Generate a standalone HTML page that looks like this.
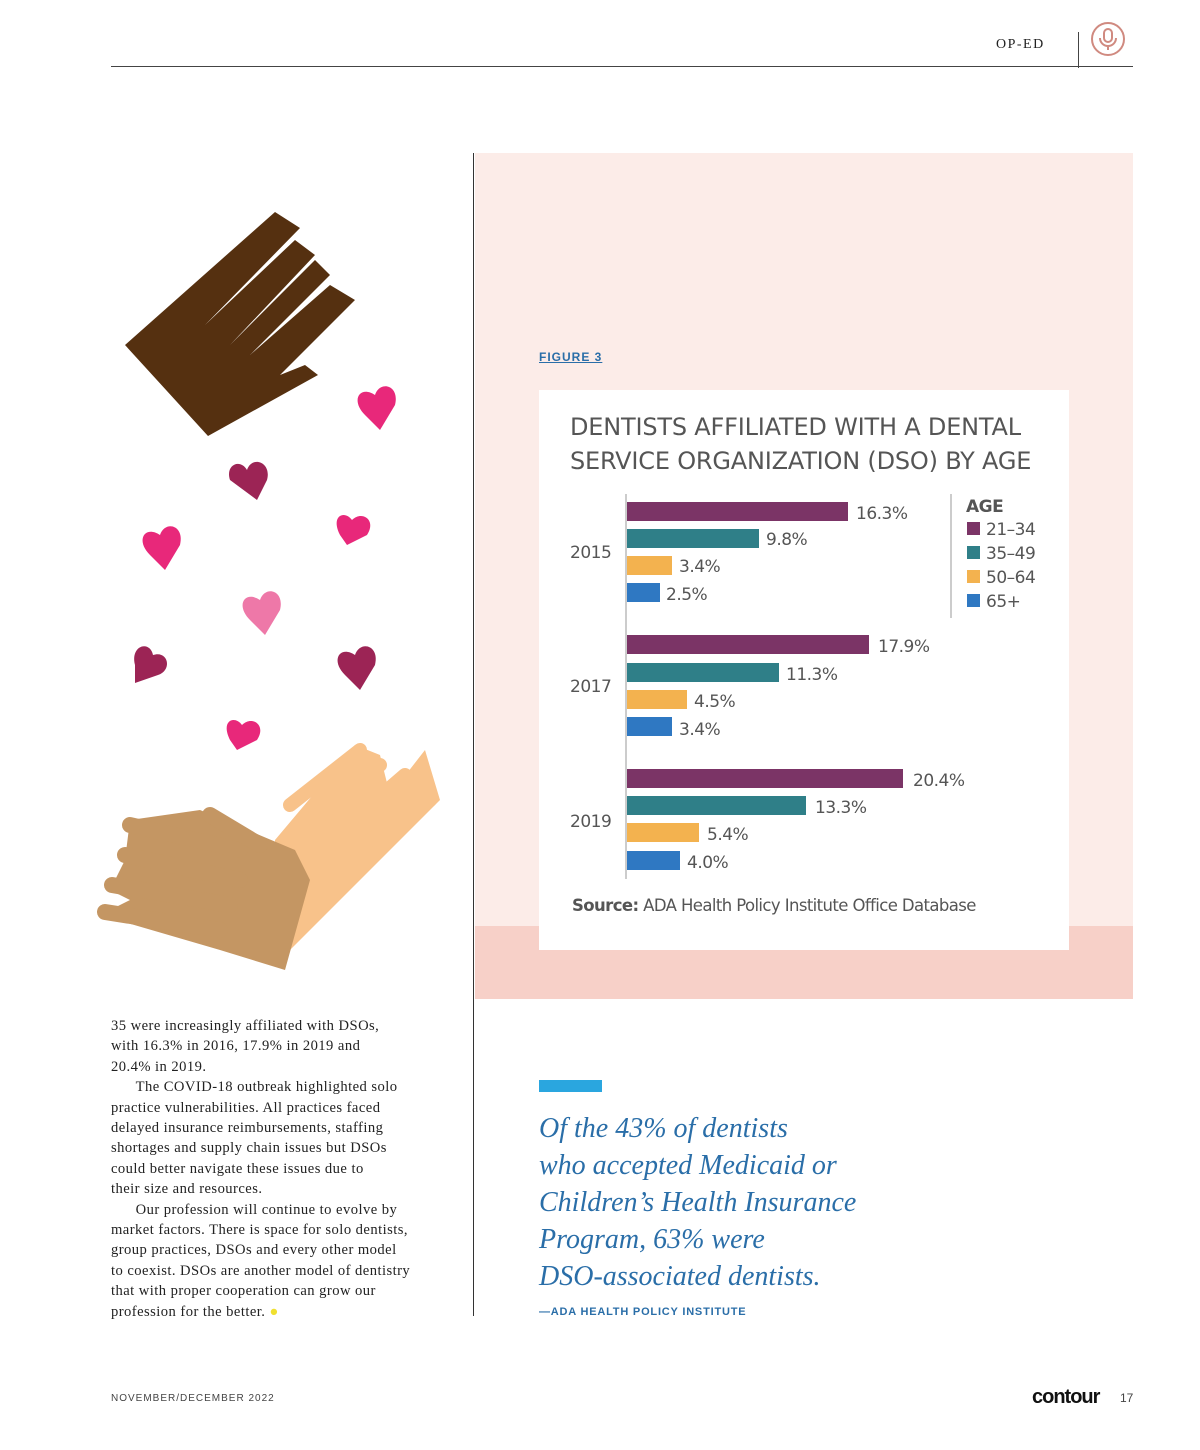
<!DOCTYPE html>
<html><head><meta charset="utf-8"><style>
body{margin:0;width:1200px;height:1450px;background:#fff;position:relative;overflow:hidden;font-family:"Liberation Sans",sans-serif}
.a{position:absolute}
.body{font-family:"Liberation Serif",serif;font-size:14.6px;letter-spacing:0.45px;line-height:20.4px;color:#222;white-space:nowrap}
</style></head><body>
<div class="a" style="left:996px;top:37px;font-family:'Liberation Serif',serif;font-size:14px;letter-spacing:1.5px;color:#222">OP-ED</div>
<div class="a" style="left:1078px;top:32px;width:1px;height:36px;background:#444"></div>
<div class="a" style="left:111px;top:66px;width:1022px;height:1px;background:#444"></div>
<svg class="a" style="left:1089px;top:21px" width="38" height="38"><circle cx="19" cy="18" r="16" fill="none" stroke="#d08a80" stroke-width="2"/><rect x="15" y="8" width="8" height="13" rx="4" fill="none" stroke="#d08a80" stroke-width="2"/><path d="M11 17 a8 8 0 0 0 16 0 M19 25 v4" fill="none" stroke="#d08a80" stroke-width="2"/></svg>

<svg class="a" style="left:90px;top:200px" width="370" height="790">
<polygon points="35,145 185,12 210,28 115,125 205,40 225,55 140,145 225,60 240,75 160,155 240,85 265,100 190,175 215,165 228,175 118,236" fill="#553010"/>
<g fill="#e8287a"><path d="M275,215 c-15,-15 -5,-30 10,-20 c5,-15 25,-10 20,10 l-15,25z"/><path d="M60,355 c-15,-15 -5,-30 10,-20 c5,-15 25,-10 20,10 l-15,25z"/><path d="M250,335 c-10,-20 5,-25 12,-15 c10,-10 25,0 15,15 l-20,10z"/><path d="M140,540 c-10,-20 5,-25 12,-15 c10,-10 25,0 15,15 l-20,10z"/></g>
<g fill="#9c2455"><path d="M140,280 c-5,-15 10,-22 17,-10 c5,-15 25,-8 20,10 l-10,20z"/><path d="M45,465 c-5,-20 15,-25 18,-10 c15,-5 20,15 5,20 l-23,8z"/><path d="M255,475 c-15,-15 -5,-30 10,-20 c5,-15 25,-10 20,10 l-15,25z"/></g>
<path d="M160,420 c-15,-15 -5,-30 10,-20 c5,-15 25,-10 20,10 l-15,25z" fill="#ee78a8"/>
<polygon points="185,640 265,545 290,555 300,595 335,550 350,600 200,750 185,740" fill="#f8c28a"/>
<polygon points="40,620 110,610 205,650 220,680 195,770 130,750 10,715 40,700 20,690 35,660" fill="#c49663"/>
<g stroke="#f8c28a" stroke-width="14" stroke-linecap="round"><line x1="200" y1="605" x2="270" y2="550"/><line x1="225" y1="620" x2="290" y2="565"/><line x1="245" y1="635" x2="315" y2="575"/><line x1="265" y1="650" x2="340" y2="600"/></g>
<g stroke="#c49663" stroke-width="16" stroke-linecap="round"><line x1="40" y1="625" x2="150" y2="650"/><line x1="35" y1="655" x2="150" y2="680"/><line x1="22" y1="685" x2="140" y2="705"/><line x1="15" y1="712" x2="130" y2="730"/><line x1="120" y1="615" x2="170" y2="645"/></g>
</svg>

<div class="a body" style="left:111px;top:1016px">35 were increasingly affiliated with DSOs,<br>with 16.3% in 2016, 17.9% in 2019 and<br>20.4% in 2019.<br>&nbsp;&nbsp;&nbsp;&nbsp;&nbsp;&nbsp;The COVID-18 outbreak highlighted solo<br>practice vulnerabilities. All practices faced<br>delayed insurance reimbursements, staffing<br>shortages and supply chain issues but DSOs<br>could better navigate these issues due to<br>their size and resources.<br>&nbsp;&nbsp;&nbsp;&nbsp;&nbsp;&nbsp;Our profession will continue to evolve by<br>market factors. There is space for solo dentists,<br>group practices, DSOs and every other model<br>to coexist. DSOs are another model of dentistry<br>that with proper cooperation can grow our<br>profession for the better. <span style="color:#f0e030">●</span></div>

<div class="a" style="left:473px;top:153px;width:1px;height:1163px;background:#333"></div>
<div class="a" style="left:475px;top:153px;width:658px;height:846px;background:#fcece8"></div>
<div class="a" style="left:475px;top:926px;width:658px;height:73px;background:#f7d0c8"></div>
<div class="a" style="left:539px;top:350px;font-size:12px;font-weight:bold;letter-spacing:1px;color:#2a6ea8;text-decoration:underline">FIGURE 3</div>
<div class="a" style="left:539px;top:390px;width:530px;height:560px;background:#fff"></div>
<div class="a" style="left:570px;top:410px;font-family:'DejaVu Sans',sans-serif;font-size:24px;line-height:34px;color:#555;letter-spacing:-0.2px;white-space:nowrap">DENTISTS AFFILIATED WITH A DENTAL<br>SERVICE ORGANIZATION (DSO) BY AGE</div>
<div class="a" style="left:625px;top:494px;width:2px;height:385px;background:#ccc"></div>
<div class="a" style="left:950px;top:494px;width:2px;height:124px;background:#ccc"></div>
<svg class="a" style="left:0;top:0" width="1200" height="1450">
<g><rect x="627" y="502" width="221" height="19" fill="#7b3466"/><rect x="627" y="529" width="132" height="19" fill="#2f7f88"/><rect x="627" y="556" width="45" height="19" fill="#f3b24f"/><rect x="627" y="583" width="33" height="19" fill="#2f78c2"/>
<rect x="627" y="635" width="242" height="19" fill="#7b3466"/><rect x="627" y="663" width="152" height="19" fill="#2f7f88"/><rect x="627" y="690" width="60" height="19" fill="#f3b24f"/><rect x="627" y="717" width="45" height="19" fill="#2f78c2"/>
<rect x="627" y="769" width="276" height="19" fill="#7b3466"/><rect x="627" y="796" width="179" height="19" fill="#2f7f88"/><rect x="627" y="823" width="72" height="19" fill="#f3b24f"/><rect x="627" y="851" width="53" height="19" fill="#2f78c2"/>
<rect x="967" y="522" width="13" height="13" fill="#7b3466"/><rect x="967" y="546" width="13" height="13" fill="#2f7f88"/><rect x="967" y="570" width="13" height="13" fill="#f3b24f"/><rect x="967" y="594" width="13" height="13" fill="#2f78c2"/></g>
<g font-family="DejaVu Sans, sans-serif" font-size="17" fill="#555" letter-spacing="-0.5">
<text x="856" y="519">16.3%</text><text x="766" y="545">9.8%</text><text x="679" y="572">3.4%</text><text x="666" y="600">2.5%</text>
<text x="878" y="652">17.9%</text><text x="786" y="680">11.3%</text><text x="694" y="707">4.5%</text><text x="679" y="735">3.4%</text>
<text x="913" y="786">20.4%</text><text x="815" y="813">13.3%</text><text x="707" y="840">5.4%</text><text x="687" y="868">4.0%</text>
<text x="570" y="558">2015</text><text x="570" y="692">2017</text><text x="570" y="827">2019</text>
<text x="966" y="512" font-weight="bold">AGE</text><text x="986" y="535">21–34</text><text x="986" y="559">35–49</text><text x="986" y="583">50–64</text><text x="986" y="607">65+</text>
<text x="572" y="911" font-size="16.5" letter-spacing="-0.6"><tspan font-weight="bold">Source:</tspan> ADA Health Policy Institute Office Database</text>
</g></svg>

<div class="a" style="left:539px;top:1080px;width:63px;height:12px;background:#2aa6df"></div>
<div class="a" style="left:539px;top:1110px;font-family:'Liberation Serif',serif;font-style:italic;font-size:28px;line-height:37px;color:#2a6ea8;white-space:nowrap">Of the 43% of dentists<br>who accepted Medicaid or<br>Children’s Health Insurance<br>Program, 63% were<br>DSO-associated dentists.</div>
<div class="a" style="left:539px;top:1306px;font-size:11px;font-weight:bold;letter-spacing:0.8px;color:#2a6ea8">—ADA HEALTH POLICY INSTITUTE</div>
<div class="a" style="left:111px;top:1393px;font-size:10px;letter-spacing:1px;color:#444">NOVEMBER/DECEMBER 2022</div>
<div class="a" style="left:1032px;top:1386px;font-size:20px;font-weight:bold;letter-spacing:-1px;color:#111">contour</div>
<div class="a" style="left:1120px;top:1391px;font-size:12px;color:#444">17</div>
</body></html>
